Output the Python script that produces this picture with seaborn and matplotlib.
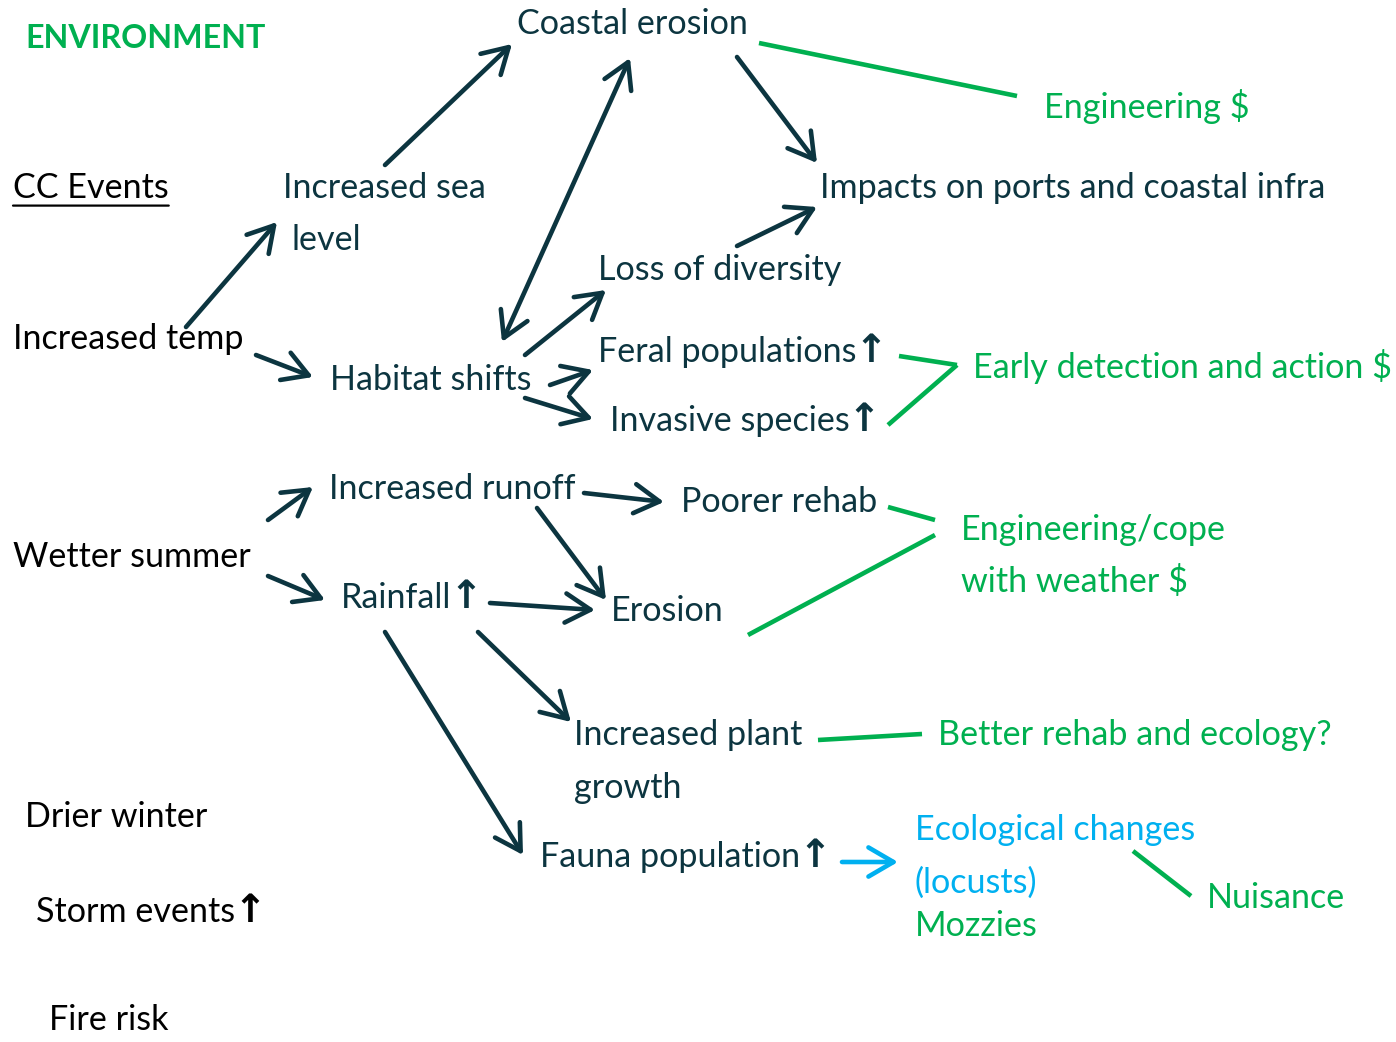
import matplotlib
matplotlib.use("Agg")
import matplotlib.pyplot as plt
import seaborn as sns

sns.set_theme(style="white")
plt.rcParams['font.family'] = ['Lato', 'DejaVu Sans']

DARK = "#0C3540"
GREEN = "#00B050"
BLUE = "#00B0F0"
BLACK = "#000000"

# ---- node labels ----
labels = ["ENVIRONMENT", "CC Events", "Increased sea", "level", "Coastal erosion",
          "Engineering $", "Impacts on ports and coastal infra", "Loss of diversity",
          "Increased temp", "Habitat shifts", "Feral populations", "Invasive species",
          "Early detection and action $", "Increased runoff", "Poorer rehab",
          "Engineering/cope", "with weather $", "Wetter summer", "Rainfall", "Erosion",
          "Increased plant", "growth", "Better rehab and ecology?", "Drier winter",
          "Fauna population", "Ecological changes", "(locusts)", "Mozzies", "Nuisance",
          "Storm events", "Fire risk"]
label_up = [False, False, False, False, False, False, False, False, False, False, True, True,
            False, False, False, False, False, False, True, False, False, False, False, False,
            True, False, False, False, False, True, False]
label_x = [25, 13, 283, 292, 517, 1044, 820, 598, 13, 330, 598, 610, 973, 329, 681,
           961, 961, 13, 341, 611, 574, 574, 938, 25, 540, 915, 915, 915, 1207, 36, 49]
label_y = [38, 188, 188, 240, 24, 106, 188, 270, 339, 380, 352, 421, 366, 489, 502,
           530, 582, 557, 598, 611, 735, 788, 735, 817, 857, 830, 883, 926, 898, 912, 1020]
label_color = [GREEN, BLACK, DARK, DARK, DARK, GREEN, DARK, DARK, BLACK, DARK, DARK, DARK,
               GREEN, DARK, DARK, GREEN, GREEN, BLACK, DARK, DARK, DARK, DARK, GREEN, BLACK,
               DARK, BLUE, BLUE, GREEN, GREEN, BLACK, BLACK]
label_bold = [True] + [False] * (len(labels) - 1)
label_underline = [False, True] + [False] * (len(labels) - 2)

# ---- dark arrows (from -> to) ----
arrow_from = [(385, 165), (186, 327), (256, 355), (737, 57), (737, 246), (525, 355),
              (550, 385), (525, 398), (268, 520), (268, 576), (584, 493), (537, 508),
              (490, 603), (478, 632), (385, 632)]
arrow_to = [(512, 44), (277, 222), (313, 377), (817, 163), (817, 207), (606, 290),
            (593, 370), (593, 419), (313, 487), (325, 600), (664, 502), (606, 600),
            (595, 610), (571, 722), (523, 855)]

# ---- double arrow ----
double_from = [(502, 342)]
double_to = [(630, 58)]

# ---- blue arrow ----
blue_from = [(842, 862)]
blue_to = [(898, 862)]

# ---- green connector lines ----
line_from = [(759, 43), (899, 356), (888, 425), (888, 507), (748, 635), (818, 740), (1133, 851)]
line_to = [(1017, 96), (957, 365), (957, 365), (935, 520), (935, 535), (922, 734), (1191, 896)]

fig = plt.figure(figsize=(13.96, 10.42), dpi=100)
ax = fig.add_axes([0, 0, 1, 1])
ax.set_xlim(0, 1396)
ax.set_ylim(1042, 0)
ax.axis("off")

FS = 24.6
for t, x, y, c, b, up, ul in zip(labels, label_x, label_y, label_color, label_bold,
                                 label_up, label_underline):
    txt = ax.text(x, y, t, color=c, fontsize=23.2 if b else FS, ha="left", va="center",
                  fontweight="bold" if b else "normal")
    if up:
        ax.annotate("\u2191", xy=(1, 0.5), xycoords=txt, xytext=(-1.5, 1),
                    textcoords="offset points", ha="left", va="center",
                    color=c, fontsize=FS * 1.15, fontweight="bold", family="DejaVu Sans")
    if ul:
        ax.annotate("", xy=(1, -0.05), xycoords=txt, xytext=(0, -0.05), textcoords=txt,
                    arrowprops=dict(arrowstyle="-", color=c, lw=1.6,
                                    shrinkA=0, shrinkB=0))

astyle = "->,head_length=0.6,head_width=0.35"
for (x0, y0), (x1, y1) in zip(arrow_from, arrow_to):
    ax.annotate("", xy=(x1, y1), xytext=(x0, y0),
                arrowprops=dict(arrowstyle=astyle, color=DARK, lw=3.3,
                                mutation_scale=30, shrinkA=0, shrinkB=0))
for (x0, y0), (x1, y1) in zip(double_from, double_to):
    ax.annotate("", xy=(x1, y1), xytext=(x0, y0),
                arrowprops=dict(arrowstyle="<->,head_length=0.6,head_width=0.35",
                                color=DARK, lw=3.3, mutation_scale=30,
                                shrinkA=0, shrinkB=0))
for (x0, y0), (x1, y1) in zip(blue_from, blue_to):
    ax.annotate("", xy=(x1, y1), xytext=(x0, y0),
                arrowprops=dict(arrowstyle=astyle, color=BLUE, lw=3.3,
                                mutation_scale=30, shrinkA=0, shrinkB=0))
for (x0, y0), (x1, y1) in zip(line_from, line_to):
    ax.plot([x0, x1], [y0, y1], color=GREEN, lw=3.3, solid_capstyle="butt")

fig.savefig("out.png", dpi=100, facecolor="white")
